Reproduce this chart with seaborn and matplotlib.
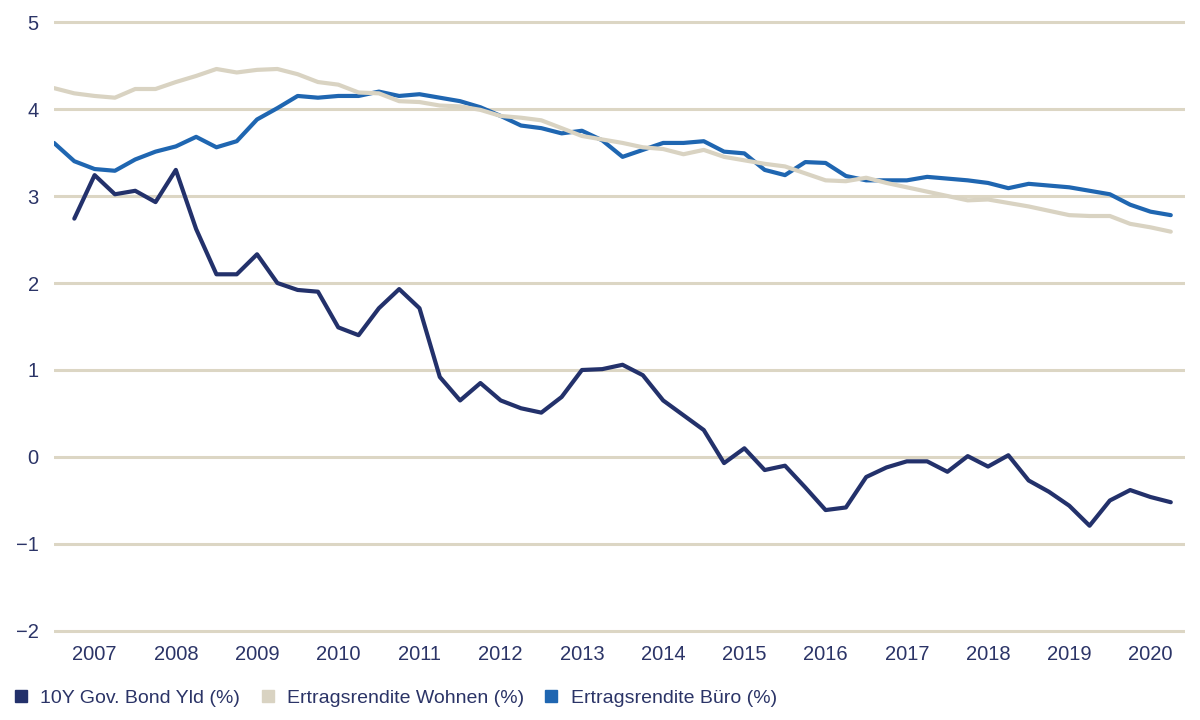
import numpy as np
import pandas as pd
import matplotlib
matplotlib.use("Agg")
import matplotlib.pyplot as plt
from matplotlib.lines import Line2D
import seaborn as sns

# ---- data (quarterly, 2007 Q1 .. 2020 Q4) ----
start_year = 2007
n_quarters = 56
years = list(range(2007, 2021))
year_labels = [str(y) for y in years]

bond = [np.nan, 2.74, 3.24, 3.02, 3.06, 2.93, 3.30, 2.62, 2.10, 2.10, 2.33, 2.00, 1.92, 1.90,
        1.49, 1.40, 1.71, 1.93, 1.71, 0.92, 0.65, 0.85, 0.65, 0.56, 0.51, 0.69, 1.00, 1.01,
        1.06, 0.94, 0.65, 0.48, 0.31, -0.07, 0.10, -0.15, -0.10, -0.35, -0.61, -0.58, -0.23, -0.12,
        -0.05, -0.05, -0.17, 0.01, -0.11, 0.02, -0.27, -0.40, -0.56, -0.79, -0.50, -0.38, -0.46, -0.52]

buero = [3.61, 3.40, 3.31, 3.29, 3.42, 3.51, 3.57, 3.68, 3.56, 3.63, 3.88, 4.01, 4.15, 4.13,
         4.15, 4.15, 4.20, 4.15, 4.17, 4.13, 4.09, 4.02, 3.92, 3.81, 3.78, 3.72, 3.75, 3.64,
         3.45, 3.53, 3.61, 3.61, 3.63, 3.51, 3.49, 3.30, 3.24, 3.39, 3.38, 3.23, 3.18, 3.18,
         3.18, 3.22, 3.20, 3.18, 3.15, 3.09, 3.14, 3.12, 3.10, 3.06, 3.02, 2.90, 2.82, 2.78]

wohnen = [4.24, 4.18, 4.15, 4.13, 4.23, 4.23, 4.31, 4.38, 4.46, 4.42, 4.45, 4.46, 4.40, 4.31,
          4.28, 4.19, 4.18, 4.09, 4.08, 4.04, 4.03, 3.99, 3.92, 3.90, 3.87, 3.78, 3.69, 3.65,
          3.61, 3.56, 3.54, 3.48, 3.53, 3.45, 3.41, 3.37, 3.34, 3.26, 3.18, 3.17, 3.21, 3.15,
          3.10, 3.05, 3.00, 2.95, 2.96, 2.92, 2.88, 2.83, 2.78, 2.77, 2.77, 2.68, 2.64, 2.59]

series_names = ["10Y Gov. Bond Yld (%)", "Ertragsrendite Wohnen (%)", "Ertragsrendite Büro (%)"]
y_ticks = [-2, -1, 0, 1, 2, 3, 4, 5]

# ---- styling ----
C_BOND = "#23316b"
C_WOHNEN = "#d9d3c2"
C_BUERO = "#1f66b1"
C_TEXT = "#2b3467"
C_GRID = "#dcd6c4"

sns.set_theme(style="white")
plt.rcParams["font.family"] = ["Liberation Sans", "DejaVu Sans"]

x = start_year + np.arange(n_quarters) / 4.0
df = pd.concat([
    pd.DataFrame({"x": x, "value": buero, "series": series_names[2]}),
    pd.DataFrame({"x": x, "value": wohnen, "series": series_names[1]}),
    pd.DataFrame({"x": x, "value": bond, "series": series_names[0]}),
], ignore_index=True).dropna()

palette = {series_names[0]: C_BOND, series_names[1]: C_WOHNEN, series_names[2]: C_BUERO}

fig = plt.figure(figsize=(12, 7.2), dpi=100)
ax = fig.add_axes([0.045, 1 - 633.6 / 720, 0.9425, (633.6 - 19.4) / 720])

for name in [series_names[2], series_names[1], series_names[0]]:
    sns.lineplot(data=df[df["series"] == name], x="x", y="value", color=palette[name],
                 linewidth=3.0, ax=ax, legend=False, zorder=3)

ax.set_ylim(-2.03, 5.03)
ax.set_xlim(start_year, start_year + 55.7 / 4)
ax.set_yticks(y_ticks)
ax.set_yticklabels([("\u2212" + str(abs(v))) if v < 0 else str(v) for v in y_ticks])
ax.set_xticks([y + 0.5 for y in years])
ax.set_xticklabels(year_labels)
ax.set_xlabel("")
ax.set_ylabel("")

for v in y_ticks:
    ax.axhline(v, color=C_GRID, linewidth=2.2, zorder=1)

for s in ax.spines.values():
    s.set_visible(False)
ax.tick_params(axis="both", length=0, colors=C_TEXT, labelsize=14.5)
ax.tick_params(axis="y", pad=11)
ax.tick_params(axis="x", pad=8)
ax.grid(False)

handles = [Line2D([0], [0], marker="s", linestyle="none", markersize=9,
                  markerfacecolor=palette[n], markeredgecolor=palette[n]) for n in series_names]
leg = fig.legend(handles, series_names, loc="center left", bbox_to_anchor=(0.011, 1 - 698 / 720),
                 ncol=3, frameon=False, fontsize=14, handlelength=0.8, handletextpad=0.6,
                 columnspacing=1.0, borderpad=0, borderaxespad=0)
for t in leg.get_texts():
    t.set_color(C_TEXT)

fig.savefig("out.png", dpi=100)
